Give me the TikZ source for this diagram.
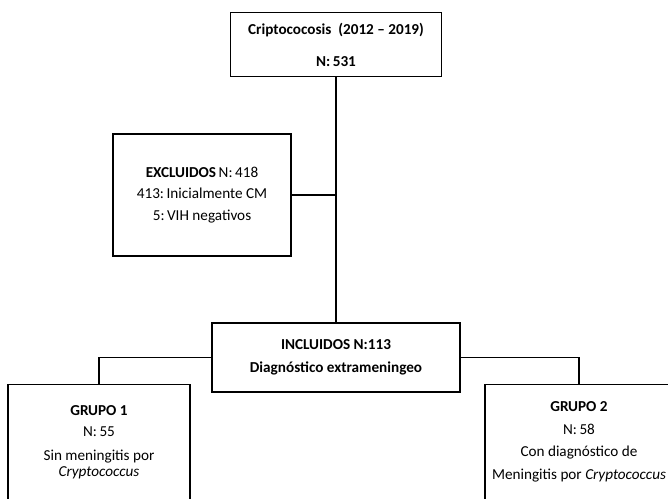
\documentclass[tikz,border=0pt]{standalone}
\usepackage{fontspec}
\setmainfont{Carlito}
\usetikzlibrary{positioning}
\tikzset{
  box/.style={draw, line width=1.1pt, align=center, inner sep=0pt, font=\fontsize{11.4}{16}\selectfont},
  txt/.style={align=center, inner sep=0pt, font=\fontsize{11.4}{17}\selectfont},
  link/.style={line width=1.1pt},
}
\begin{document}
\begin{tikzpicture}[x=0.75pt, y=-0.75pt]
\useasboundingbox (0,0) rectangle (668,499);
\clip (0,0) rectangle (668,499);

% totals and exclusions
\node[box, minimum width=158pt, minimum height=48pt] (total) at (336,44.5)
  {\textbf{Criptococosis\ \ (2012 – 2019)}\\[8pt]\textbf{N:\,531}};
\node[box, minimum width=133.5pt, minimum height=91.5pt] (excl) at (202,195)
  {\textbf{EXCLUIDOS}\,N:\,418\\413:\,Inicialmente CM\\5:\,VIH negativos};
\node[box, minimum width=186pt, minimum height=52pt] (incl) at (336,357.5)
  {\textbf{INCLUIDOS N:113}\\[1pt]\textbf{Diagnóstico extrameningeo}};

% groups (boxes run past the lower edge)
\node[box, anchor=north, minimum width=136.5pt, minimum height=120pt] (g1) at (99,384) {};
\node[txt, below=16pt of g1.north] (g1txt)
  {\textbf{GRUPO 1}\\[-1pt]N:\,55\\[1pt]Sin meningitis por\\[-5pt]\textit{Cryptococcus}};
\node[box, anchor=north, minimum width=141pt, minimum height=120pt] (g2) at (579,384) {};
\node[txt, below=13pt of g2.north] (g2txt)
  {\textbf{GRUPO 2}\\N:\,58\\Con diagnóstico de\\Meningitis por \textit{Cryptococcus}};

% connectors
\draw[link] (total.south) -- (incl.north);
\draw[link] (excl.east) -- (excl.east -| total.south);
\draw[link] (incl.west) -| (g1.north);
\draw[link] (incl.east) -| (g2.north);
\end{tikzpicture}
\end{document}
